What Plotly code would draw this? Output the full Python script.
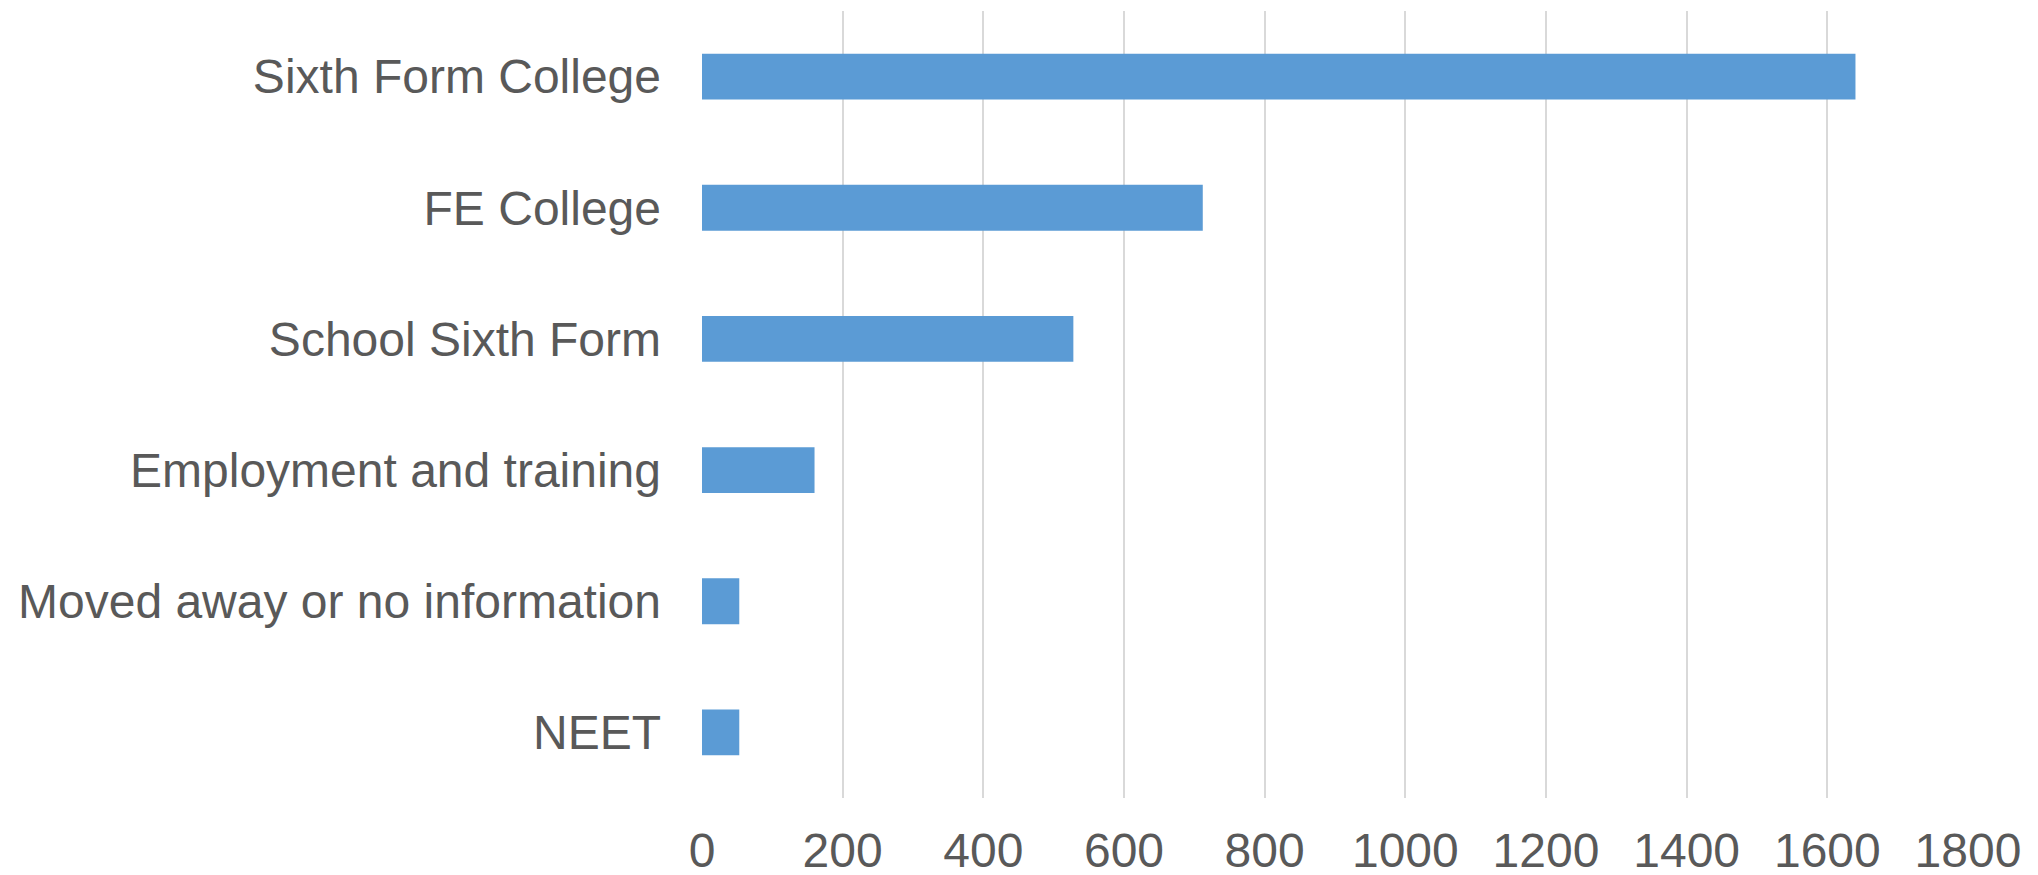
import plotly.graph_objects as go

categories = [
    "Sixth Form College",
    "FE College",
    "School Sixth Form",
    "Employment and training",
    "Moved away or no information",
    "NEET",
]
values = [1640, 712, 528, 160, 53, 53]
x_ticks = [0, 200, 400, 600, 800, 1000, 1200, 1400, 1600, 1800]

TEXT = "#595959"
FONT = "Liberation Sans, Arial, sans-serif"

fig = go.Figure(
    go.Bar(
        x=values,
        y=categories,
        orientation="h",
        marker=dict(color="#5B9BD5", line=dict(width=0)),
        width=0.35,
        hoverinfo="x+y",
    )
)

# the page body adds an 8px offset, so the figure is 8px smaller and margins compensate
fig.update_layout(
    width=2030,
    height=867,
    margin=dict(l=694, r=70, t=3, b=77, autoexpand=False),
    paper_bgcolor="white",
    plot_bgcolor="white",
    showlegend=False,
    font=dict(family=FONT, size=48, color=TEXT),
)

fig.update_xaxes(
    range=[0, 1800],
    tickvals=x_ticks,
    ticktext=[str(v) for v in x_ticks],
    showgrid=True,
    gridcolor="#D9D9D9",
    gridwidth=1.5,
    zeroline=False,
    showline=False,
    ticks="",
    automargin=False,
    tickfont=dict(family=FONT, size=48, color=TEXT),
    ticklabelstandoff=20,
)

fig.update_yaxes(
    categoryorder="array",
    categoryarray=categories,
    autorange="reversed",
    showgrid=False,
    zeroline=False,
    showline=False,
    ticks="",
    automargin=False,
    tickfont=dict(family=FONT, size=48, color=TEXT),
    ticklabelstandoff=40,
)

fig.write_html("out.html")
